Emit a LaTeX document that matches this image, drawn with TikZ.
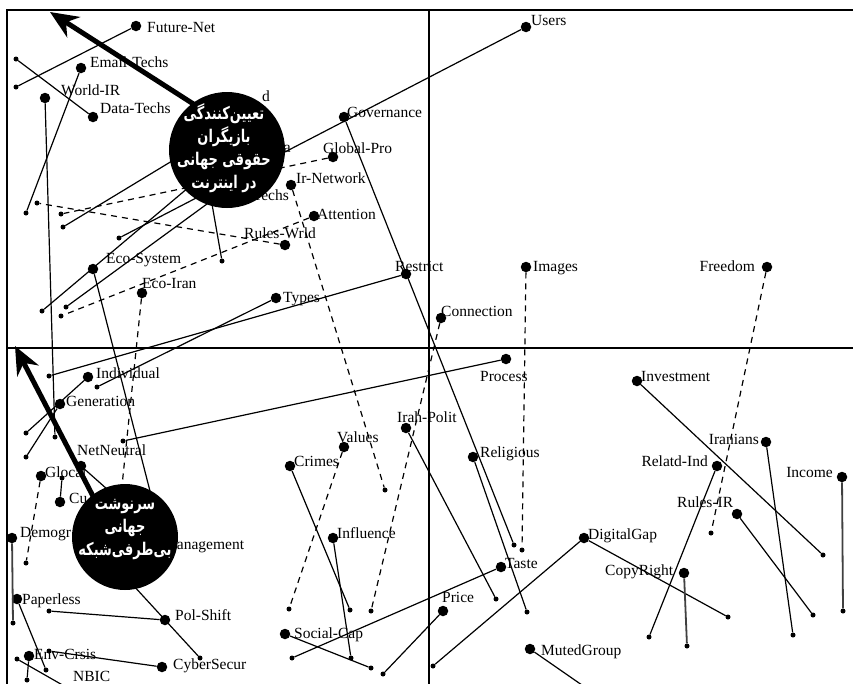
\documentclass[tikz,border=0pt]{standalone}
\usepackage{fontspec}
\setmainfont{Liberation Serif}
\newfontfamily\arabicfont[Script=Arabic,FakeStretch=0.74]{DejaVu Sans}
\TeXXeTstate=1
\usetikzlibrary{arrows.meta}
\tikzset{
 bigdot/.style={circle,fill=black,inner sep=0pt,minimum size=10.5pt},
 smalldot/.style={circle,fill=black,inner sep=0pt,minimum size=5pt},
 conn/.style={line width=1.2pt,black},
 dconn/.style={conn,dash pattern=on 6pt off 5pt},
 grayconn/.style={line width=1.8pt,black!75},
 lbl/.style={inner sep=0pt,font=\fontsize{15.5}{18}\selectfont},
 frameline/.style={line width=1.3pt},
 bigcirc/.style={circle,fill=black,inner sep=0pt},
 artext/.style={text=white,align=center,font=\arabicfont\bfseries\fontsize{17.5}{23}\selectfont,inner sep=0pt},
 thickarrow/.style={line width=5pt,-{Stealth[length=28pt,width=24pt,inset=9pt]}},
}
\begin{document}
\begin{tikzpicture}[x=1pt,y=-1pt]
\useasboundingbox (0,0) rectangle (853,683);
% frame and quadrants
\draw[frameline] (7,700) -- (7,10) -- (870,10);
\draw[frameline] (429,10) -- (429,700);
\draw[frameline] (7,348) -- (870,348);

% labels
\node[lbl,anchor=base west] (l-fn) at (147,32) {Future-Net};
\node[lbl,anchor=base west] (l-et) at (90,67) {Email-Techs};
\node[lbl,anchor=base west] (l-wir) at (61,95) {World-IR};
\node[lbl,anchor=base west] (l-dt) at (100,113) {Data-Techs};
\node[lbl,anchor=base east] (l-d) at (270,101) {d};
\node[lbl,anchor=base west] (l-gov) at (347,117) {Governance};
\node[lbl,anchor=base west] (l-users) at (531,25) {Users};
\node[lbl,anchor=base east] (l-a) at (291,152) {a};
\node[lbl,anchor=base west] (l-gp) at (323,153) {Global-Pro};
\node[lbl,anchor=base west] (l-irn) at (296,183) {Ir-Network};
\node[lbl,anchor=base east] (l-techs) at (289,200) {Techs};
\node[lbl,anchor=base west] (l-att) at (317,219) {Attention};
\node[lbl,anchor=base west] (l-rw) at (244,238) {Rules-Wrld};
\node[lbl,anchor=base west] (l-ecs) at (106,263) {Eco-System};
\node[lbl,anchor=base west] (l-eci) at (142,288) {Eco-Iran};
\node[lbl,anchor=base west] (l-types) at (283,302) {Types};
\node[lbl,anchor=base west] (l-restr) at (395,271) {Restrict};
\node[lbl,anchor=base west] (l-img) at (533,271) {Images};
\node[lbl,anchor=base east] (l-free) at (755,271) {Freedom};
\node[lbl,anchor=base west] (l-conn) at (441,316) {Connection};
\node[lbl,anchor=base west] (l-proc) at (480,381) {Process};
\node[lbl,anchor=base west] (l-inv) at (641,381) {Investment};
\node[lbl,anchor=base west] (l-ind) at (96,378) {Individual};
\node[lbl,anchor=base west] (l-gen) at (66,406) {Generation};
\node[lbl,anchor=base west] (l-nn) at (77,455) {NetNeutral};
\node[lbl,anchor=base west] (l-glo) at (45,477) {Glocal};
\node[lbl,anchor=base west] (l-cu) at (69,503) {Cu};
\node[lbl,anchor=base west] (l-dem) at (20,537) {Demogr};
\node[lbl,anchor=base west] (l-mgmt) at (163,549) {Management};
\node[lbl,anchor=base west] (l-pap) at (22,604) {Paperless};
\node[lbl,anchor=base west] (l-pol) at (175,620) {Pol-Shift};
\node[lbl,anchor=base west] (l-env) at (34,659) {Env-Crsis};
\node[lbl,anchor=base west] (l-cyb) at (173,669) {CyberSecur};
\node[lbl,anchor=base west] (l-nbic) at (73,681) {NBIC};
\node[lbl,anchor=base west] (l-val) at (337,442) {Values};
\node[lbl,anchor=base west] (l-cri) at (294,466) {Crimes};
\node[lbl,anchor=base west] (l-irp) at (397,422) {Irah-Polit};
\node[lbl,anchor=base west] (l-infl) at (337,538) {Influence};
\node[lbl,anchor=base west] (l-soc) at (294,638) {Social-Cap};
\node[lbl,anchor=base west] (l-rel) at (480,457) {Religious};
\node[lbl,anchor=base east] (l-iran) at (759,444) {Iranians};
\node[lbl,anchor=base east] (l-rind) at (708,466) {Relatd-Ind};
\node[lbl,anchor=base east] (l-inc) at (833,477) {Income};
\node[lbl,anchor=base west] (l-rir) at (677,507) {Rules-IR};
\node[lbl,anchor=base west] (l-dg) at (588,539) {DigitalGap};
\node[lbl,anchor=base west] (l-cr) at (605,575) {CopyRight};
\node[lbl,anchor=base west] (l-tas) at (505,568) {Taste};
\node[lbl,anchor=base west] (l-pri) at (442,602) {Price};
\node[lbl,anchor=base west] (l-mg) at (541,655) {MutedGroup};

% big dots
\foreach \n/\x/\y in {fn/136/26, et/81/68, wir/45/98, dt/93/117, users/526/27,
  gov/344/117, gp/333/157, irn/291/185, att/314/216, rw/285/245, ecs/93/269,
  eci/142/293, types/276/298, restr/406/274, img/526/267, free/767/267,
  conn/441/318, proc/506/359, inv/637/381, ind/88/377, gen/60/404, nn/81/466,
  glo/41/476, cu/60/502, dem/12/538, pap/17/599, pol/165/620, env/29/656,
  cyb/162/667, irp/406/428, val/344/447, cri/290/466, rel/473/457, infl/333/538,
  soc/285/634, tas/501/567, pri/443/611, dg/584/538, mg/530/649, iran/766/442,
  rind/717/466, inc/842/477, rir/737/514, cr/684/573}
  \node[bigdot] (\n) at (\x,\y) {};

% small dots
\foreach \n/\x/\y in {a1/16/87, a2/26/213, a3/55/437, a4/16/59, a5/119/238,
  a6/514/545, a7/61/214, a8/385/490, a9/61/316, a10/37/203, a11/97/387,
  a12/49/376, a13/522/550, a14/711/533, a15/371/611, a16/123/441, a17/823/555,
  a18/26/433, a19/26/457, a20/26/563, a21/62/478, a22/13/623, a23/46/670,
  a24/49/611, a25/27/680, a26/17/659, a27/49/651, a28/200/658, a29/496/599,
  a30/289/609, a31/350/610, a32/527/612, a33/351/658, a34/371/668, a35/292/658,
  a36/383/674, a37/433/666, a38/728/617, a39/793/635, a40/649/637, a41/843/611,
  a42/813/615, a43/687/646, a44/63/227, a45/222/261, a46/42/311, a47/66/307}
  \node[smalldot] (\n) at (\x,\y) {};

% hidden ends (under the circles / off the page)
\coordinate (h1) at (205,141);
\coordinate (h2) at (206,170);
\coordinate (h3) at (195,182);
\coordinate (h4) at (222,193);
\coordinate (hE) at (160,530);
\coordinate (hI) at (120,505);
\coordinate (hN) at (125,505);
\coordinate (hM) at (110,560);
\coordinate (nbic) at (66,687);
\coordinate (mgend) at (592,692);

% solid connectors
\foreach \a/\b in {fn/a1, et/a2, wir/a3, dt/a4, users/a5, gov/a6, types/a11,
  restr/a12, proc/a16, inv/a17, ind/a18, gen/a19, cu/a21, pap/a23, pol/a24,
  env/a25, a26/nbic, a27/cyb, hM/a28, irp/a29, cri/a31, rel/a32, infl/a33,
  soc/a34, tas/a35, pri/a36, dg/a37, dg/a38, iran/a39, rind/a40, rir/a42,
  h1/a44, h2/a45, h3/a46, h4/a47, ecs/hE, nn/hN, mg/mgend}
  \draw[conn] (\a) -- (\b);
\draw[grayconn] (dem) -- (a22);
\draw[grayconn] (inc) -- (a41);
\draw[grayconn] (cr) -- (a43);

% dashed connectors
\foreach \a/\b in {gp/a7, irn/a8, att/a9, rw/a10, img/a13, free/a14, conn/a15,
  glo/a20, val/a30, eci/hI}
  \draw[dconn] (\a) -- (\b);

% cluster circles
\node[bigcirc,minimum size=116pt] (c1) at (227,150) {};
\node[artext] (c1t) at (224,148) {\beginR تعیین‌کنندگی\endR\\ \beginR بازیگران\endR\\ \beginR حقوقی جهانی\endR\\ \beginR در اینترنت\endR};
\node[bigcirc,minimum size=106pt] (c2) at (125,537) {};
\node[artext] (c2t) at (125,529) {\beginR سرنوشت\endR\\ \beginR جهانی\endR\\ \beginR بی‌طرفی‌شبکه\endR};

% thick arrows
\coordinate (ar1s) at (195,105);
\coordinate (ar1t) at (50,12);
\coordinate (ar2s) at (95,500);
\coordinate (ar2t) at (15,346);
\draw[thickarrow] (ar1s) -- (ar1t);
\draw[thickarrow] (ar2s) -- (ar2t);
\end{tikzpicture}
\end{document}
